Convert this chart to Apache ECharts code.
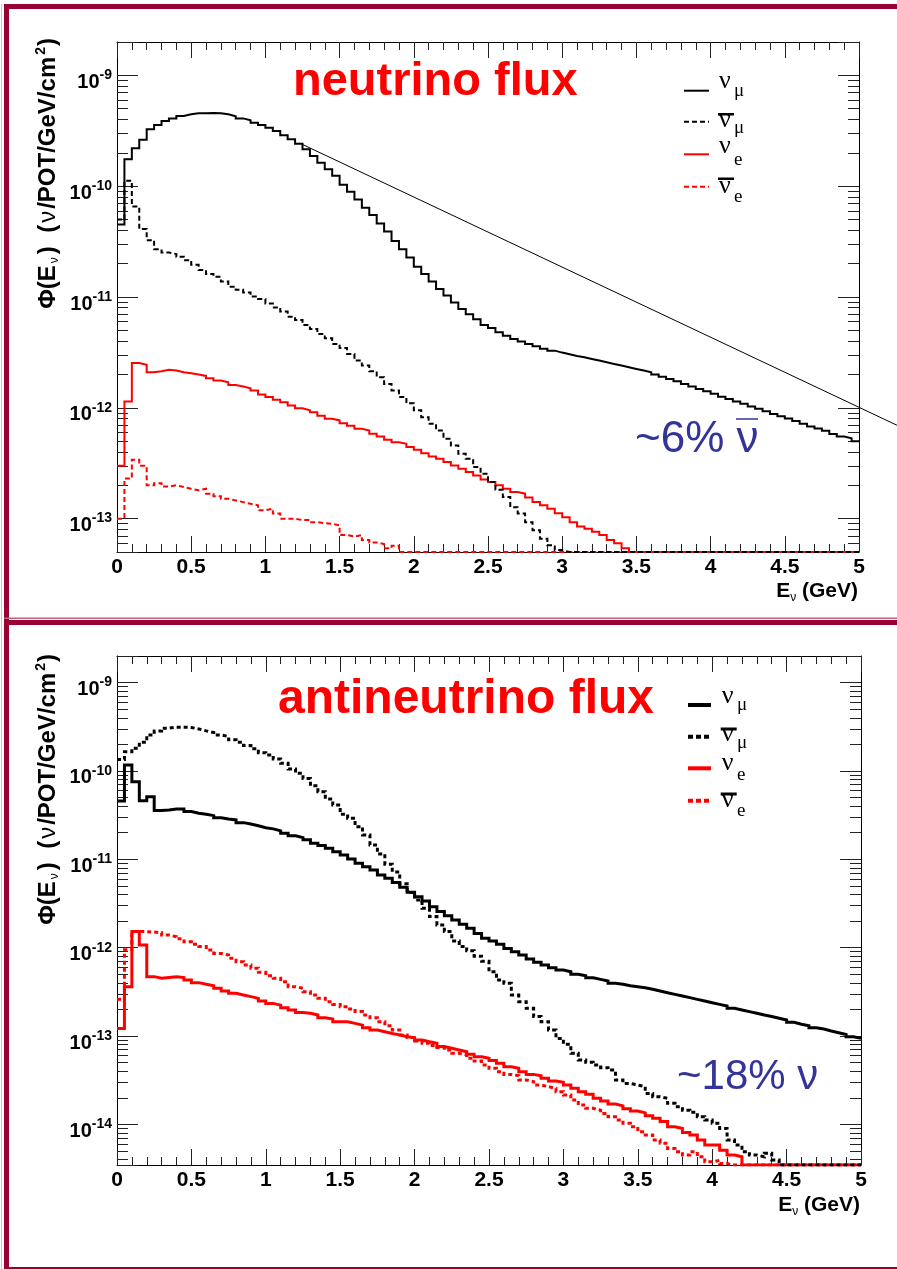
<!DOCTYPE html>
<html><head><meta charset="utf-8">
<script src="https://cdn.jsdelivr.net/npm/echarts@6/dist/echarts.min.js"></script>
<style>html,body{margin:0;padding:0;background:#fff;} #c{width:897px;height:1269px;}</style>
</head><body><div id="c"></div>
<script>
// ---------------- data (flux in nu/POT/GeV/cm^2, 0.05 GeV bins from 0 to 5 GeV; 0 = empty bin) -------------
const BIN_WIDTH = 0.05;

// neutrino-mode (top panel)
const fhcNumu = [4.5e-11,1.75e-10,2.2e-10,2.63e-10,3.26e-10,3.57e-10,3.88e-10,4.09e-10,4.3e-10,4.45e-10,
 4.54e-10,4.56e-10,4.57e-10,4.56e-10,4.45e-10,4.27e-10,4.09e-10,3.94e-10,3.74e-10,3.57e-10,
 3.37e-10,3.15e-10,2.88e-10,2.65e-10,2.42e-10,2.15e-10,1.87e-10,1.63e-10,1.42e-10,1.24e-10,
 1.03e-10,8.9e-11,7.6e-11,6.4e-11,5.5e-11,4.6e-11,3.9e-11,3.2e-11,2.7e-11,2.27e-11,
 1.87e-11,1.61e-11,1.38e-11,1.18e-11,1.03e-11,8.9e-12,7.8e-12,7.0e-12,6.3e-12,5.6e-12,
 5.26e-12,4.8e-12,4.48e-12,4.18e-12,3.96e-12,3.77e-12,3.59e-12,3.42e-12,3.28e-12,3.15e-12,
 3.04e-12,2.94e-12,2.86e-12,2.76e-12,2.67e-12,2.58e-12,2.49e-12,2.41e-12,2.32e-12,2.24e-12,
 2.17e-12,2.09e-12,2.0e-12,1.91e-12,1.82e-12,1.74e-12,1.64e-12,1.56e-12,1.48e-12,1.41e-12,
 1.34e-12,1.26e-12,1.2e-12,1.14e-12,1.09e-12,1.03e-12,9.8e-13,9.3e-13,8.8e-13,8.4e-13,
 8.0e-13,7.6e-13,7.2e-13,6.8e-13,6.5e-13,6.2e-13,5.8e-13,5.5e-13,5.3e-13,5.0e-13];
const fhcNumubar = [5.0e-11,1.12e-10,6.55e-11,4.1e-11,3.26e-11,2.7e-11,2.52e-11,2.44e-11,2.31e-11,2.15e-11,
 1.95e-11,1.75e-11,1.61e-11,1.52e-11,1.38e-11,1.24e-11,1.16e-11,1.1e-11,1.01e-11,9.6e-12,
 8.75e-12,8.05e-12,7.4e-12,6.65e-12,6.2e-12,5.6e-12,5.15e-12,4.64e-12,4.24e-12,3.77e-12,
 3.47e-12,3.06e-12,2.67e-12,2.41e-12,2.14e-12,1.89e-12,1.64e-12,1.43e-12,1.25e-12,1.1e-12,
 9.5e-13,8.2e-13,7.2e-13,6.25e-13,5.25e-13,4.57e-13,3.85e-13,3.47e-13,2.92e-13,2.54e-13,
 2.14e-13,1.82e-13,1.57e-13,1.27e-13,1.11e-13,9.3e-14,7.85e-14,6.6e-14,5.75e-14,5.2e-14,
 0,0,0,0,0,0,0,0,0,0, 0,0,0,0,0,0,0,0,0,0, 0,0,0,0,0,0,0,0,0,0, 0,0,0,0,0,0,0,0,0,0];
const fhcNue = [3.0e-13,1.14e-12,2.54e-12,2.45e-12,2.09e-12,2.14e-12,2.2e-12,2.17e-12,2.09e-12,2.05e-12,
 2.0e-12,1.94e-12,1.85e-12,1.76e-12,1.7e-12,1.61e-12,1.56e-12,1.5e-12,1.43e-12,1.32e-12,
 1.25e-12,1.18e-12,1.12e-12,1.05e-12,9.9e-13,9.5e-13,9.1e-13,8.5e-13,7.96e-13,7.7e-13,
 7.27e-13,6.9e-13,6.47e-13,6.24e-13,5.83e-13,5.52e-13,5.15e-13,4.9e-13,4.74e-13,4.42e-13,
 4.19e-13,3.9e-13,3.64e-13,3.47e-13,3.24e-13,3.02e-13,2.82e-13,2.63e-13,2.45e-13,2.25e-13,
 2.14e-13,2.0e-13,1.86e-13,1.74e-13,1.68e-13,1.55e-13,1.41e-13,1.32e-13,1.23e-13,1.12e-13,
 1.03e-13,9.3e-14,8.5e-14,8.1e-14,7.6e-14,7.1e-14,6.4e-14,6.0e-14,5.4e-14,0,
 0,0,0,0,0,0,0,0,0,0, 0,0,0,0,0,0,0,0,0,0, 0,0,0,0,0,0,0,0,0,0];
const fhcNuebar = [1.0e-13,2.3e-13,3.4e-13,3.0e-13,2.0e-13,2.09e-13,1.95e-13,2.0e-13,1.93e-13,1.86e-13,
 1.8e-13,1.86e-13,1.68e-13,1.59e-13,1.51e-13,1.46e-13,1.41e-13,1.36e-13,1.32e-13,1.19e-13,
 1.23e-13,1.11e-13,1.0e-13,1.0e-13,9.7e-14,9.7e-14,9.3e-14,9.1e-14,9.0e-14,8.7e-14,
 7.1e-14,6.9e-14,7.1e-14,6.4e-14,6.1e-14,5.9e-14,5.4e-14,5.7e-14,0,0,
 0,0,0,0,0,0,0,0,0,0, 0,0,0,0,0,0,0,0,0,0, 0,0,0,0,0,0,0,0,0,0,
 0,0,0,0,0,0,0,0,0,0, 0,0,0,0,0,0,0,0,0,0, 0,0,0,0,0,0,0,0,0,0];

// antineutrino-mode (bottom panel)
const rhcNumu = [4.58e-11,1.17e-10,7.57e-11,4.6e-11,5.1e-11,3.56e-11,3.62e-11,3.72e-11,3.72e-11,3.47e-11,
 3.32e-11,3.24e-11,3.12e-11,2.96e-11,2.86e-11,2.79e-11,2.6e-11,2.51e-11,2.4e-11,2.28e-11,
 2.21e-11,2.1e-11,1.97e-11,1.85e-11,1.76e-11,1.66e-11,1.52e-11,1.43e-11,1.33e-11,1.22e-11,
 1.12e-11,1.01e-11,9.0e-12,8.26e-12,7.58e-12,6.66e-12,6.1e-12,5.45e-12,4.83e-12,4.24e-12,
 3.78e-12,3.38e-12,2.91e-12,2.56e-12,2.3e-12,2.06e-12,1.84e-12,1.66e-12,1.45e-12,1.28e-12,
 1.19e-12,1.09e-12,9.8e-13,9.0e-13,8.26e-13,7.45e-13,6.83e-13,6.37e-13,5.94e-13,5.59e-13,
 5.35e-13,5.0e-13,4.82e-13,4.57e-13,4.38e-13,4.2e-13,3.95e-13,3.85e-13,3.71e-13,3.62e-13,
 3.52e-13,3.38e-13,3.23e-13,3.09e-13,2.96e-13,2.84e-13,2.72e-13,2.6e-13,2.49e-13,2.38e-13,
 2.28e-13,2.19e-13,2.06e-13,1.97e-13,1.89e-13,1.81e-13,1.73e-13,1.66e-13,1.59e-13,1.52e-13,
 1.43e-13,1.36e-13,1.31e-13,1.24e-13,1.2e-13,1.14e-13,1.09e-13,1.04e-13,9.8e-14,9.4e-14];
const rhcNumubar = [1.35e-10,1.65e-10,1.81e-10,2.11e-10,2.56e-10,2.84e-10,3.05e-10,3.13e-10,3.13e-10,3.1e-10,
 2.99e-10,2.84e-10,2.72e-10,2.56e-10,2.45e-10,2.25e-10,2.11e-10,1.94e-10,1.78e-10,1.61e-10,
 1.52e-10,1.37e-10,1.22e-10,1.05e-10,9.4e-11,8.2e-11,6.8e-11,5.83e-11,4.82e-11,4.12e-11,
 3.24e-11,2.92e-11,2.34e-11,1.89e-11,1.45e-11,1.15e-11,8.8e-12,7.2e-12,5.3e-12,4.2e-12,
 3.47e-12,2.79e-12,2.25e-12,1.81e-12,1.52e-12,1.19e-12,1.03e-12,9.2e-13,8.0e-13,7.0e-13,
 5.35e-13,4.3e-13,3.95e-13,2.91e-13,2.45e-13,2.06e-13,1.66e-13,1.45e-13,1.17e-13,9.4e-14,
 8.05e-14,6.37e-14,5.36e-14,5.04e-14,4.7e-14,4.38e-14,4.12e-14,3.18e-14,2.91e-14,2.79e-14,
 2.67e-14,2.24e-14,2.06e-14,1.97e-14,1.73e-14,1.58e-14,1.45e-14,1.37e-14,1.22e-14,1.12e-14,
 1.03e-14,9.0e-15,6.65e-15,5.84e-15,4.9e-15,4.5e-15,4.3e-15,4.7e-15,3.95e-15,0,
 0,0,0,0,0,0,0,0,0,0];
const rhcNue = [1.22e-13,3.62e-13,1.52e-12,1.07e-12,4.7e-13,4.5e-13,4.6e-13,4.7e-13,4.6e-13,4.3e-13,
 4.02e-13,3.85e-13,3.71e-13,3.47e-13,3.23e-13,3.04e-13,2.91e-13,2.79e-13,2.67e-13,2.49e-13,
 2.34e-13,2.24e-13,2.09e-13,1.97e-13,1.85e-13,1.81e-13,1.73e-13,1.61e-13,1.56e-13,1.45e-13,
 1.45e-13,1.39e-13,1.33e-13,1.24e-13,1.17e-13,1.12e-13,1.07e-13,1.03e-13,9.8e-14,9.6e-14,
 9.0e-14,8.6e-14,8.3e-14,7.6e-14,7.26e-14,6.95e-14,6.65e-14,6.2e-14,5.84e-14,5.6e-14,
 5.3e-14,4.91e-14,4.5e-14,4.31e-14,3.95e-14,3.68e-14,3.56e-14,3.32e-14,3.1e-14,2.99e-14,
 2.79e-14,2.56e-14,2.34e-14,2.19e-14,1.97e-14,1.84e-14,1.7e-14,1.62e-14,1.5e-14,1.42e-14,
 1.35e-14,1.25e-14,1.17e-14,1.08e-14,9.4e-15,9.0e-15,8.1e-15,7.6e-15,6.65e-15,5.84e-15,
 5.84e-15,5.1e-15,4.5e-15,4.3e-15,0,0,0,0,0,0, 0,0,0,0,0,0,0,0,0,0];
const rhcNuebar = [2.6e-13,9.5e-13,1.52e-12,1.52e-12,1.5e-12,1.48e-12,1.39e-12,1.33e-12,1.26e-12,1.17e-12,
 1.09e-12,1.03e-12,9.4e-13,8.6e-13,8.26e-13,7.57e-13,6.95e-13,6.37e-13,5.84e-13,5.26e-13,
 4.82e-13,4.5e-13,4.12e-13,3.62e-13,3.47e-13,3.18e-13,2.91e-13,2.67e-13,2.45e-13,2.28e-13,
 2.15e-13,2.02e-13,1.89e-13,1.73e-13,1.61e-13,1.45e-13,1.31e-13,1.17e-13,1.03e-13,9.6e-14,
 8.8e-14,8.3e-14,7.8e-14,7.4e-14,6.95e-14,6.37e-14,6.1e-14,5.6e-14,5.2e-14,4.7e-14,
 4.31e-14,3.95e-14,3.68e-14,3.56e-14,3.18e-14,3.05e-14,2.79e-14,2.67e-14,2.56e-14,2.34e-14,
 2.15e-14,1.89e-14,1.66e-14,1.52e-14,1.45e-14,1.33e-14,1.22e-14,1.12e-14,1.03e-14,9.4e-15,
 8.26e-15,7.6e-15,6.65e-15,6.1e-15,5.34e-15,4.9e-15,4.5e-15,4.9e-15,4.3e-15,3.77e-15,
 3.9e-15,3.6e-15,0,0,0,0,0,0,0,0, 0,0,0,0,0,0,0,0,0,0];

// thin reference line drawn in the top panel, running out past the frame (E in GeV, flux)
const guideLineE = [1.23, 5.256];
const guideLineFlux = [2.45e-10, 6.96e-13];

// axis ranges and tick labels
const X_RANGE = [0, 5];
const X_INTERVAL = 0.5;
const GUIDE_X_MAX = 5.256;        // hidden extended axis for the reference line (same scale as the panel)
const FHC_Y_RANGE = [5e-14, 2e-9];
const RHC_Y_RANGE = [3.47e-15, 2e-9];
const UNIT_EXP = -15;           // values are plotted in units of 1e-15
const UNIT = Math.pow(10, UNIT_EXP);

// ---------------- build ----------------
function hist(vals, floor) {
  const pts = vals.map((v, i) => [Math.round(i * BIN_WIDTH * 1000) / 1000, Math.max(v, floor) / UNIT]);
  pts.push([Math.round(vals.length * BIN_WIDTH * 1000) / 1000, Math.max(vals[vals.length - 1], floor) / UNIT]);
  return pts;
}
const SANS = 'Liberation Sans';
const SERIF = 'Liberation Serif';

function xAxes(gi) {
  const common = {
    type: 'value', gridIndex: gi, min: X_RANGE[0], max: X_RANGE[1], interval: X_INTERVAL,
    splitLine: { show: false },
    axisLine: { show: true, onZero: false, lineStyle: { color: '#000', width: 1 } },
    axisTick: { show: true, inside: true, length: 16, lineStyle: { color: '#222', width: 1 } },
    minorTick: { show: true, splitNumber: 5, length: 8, lineStyle: { color: '#222', width: 1 } }
  };
  return [
    Object.assign({}, common, { position: 'bottom',
      axisLabel: { show: true, margin: 5, fontFamily: SANS, fontWeight: 'bold', fontSize: 21, color: '#000' } }),
    Object.assign({}, common, { position: 'top', axisLabel: { show: false } })
  ];
}
function yLabel(v) {
  const e = Math.log10(v);
  const r = Math.round(e);
  if (Math.abs(e - r) > 1e-6) return '';
  return '{b|10}{s|' + (r + UNIT_EXP) + '}';
}
function yAxes(gi, range) {
  const common = {
    type: 'log', logBase: 10, gridIndex: gi, min: range[0] / UNIT, max: range[1] / UNIT,
    splitLine: { show: false },
    axisLine: { show: true, onZero: false, lineStyle: { color: '#000', width: 1 } },
    axisTick: { show: true, inside: true, length: 21, lineStyle: { color: '#222', width: 1 } },
    minorTick: { show: true, splitNumber: 9, length: 11, lineStyle: { color: '#222', width: 1 } }
  };
  return [
    Object.assign({}, common, { position: 'left',
      axisLabel: { show: true, margin: 5, formatter: yLabel, color: '#000',
        rich: {
          b: { fontFamily: SANS, fontWeight: 'bold', fontSize: 20, lineHeight: 20, padding: [14, 0, 0, 0], color: '#000' },
          s: { fontFamily: SANS, fontWeight: 'bold', fontSize: 14, lineHeight: 14, color: '#000' }
        } } }),
    Object.assign({}, common, { position: 'right', axisLabel: { show: false } })
  ];
}

function histSeries(vals, floor, gi, color, dashed, width, dash) {
  return {
    type: 'line', step: 'end', xAxisIndex: gi * 2, yAxisIndex: gi * 2,
    data: hist(vals, floor), showSymbol: false, symbol: 'none', silent: true,
    lineStyle: { color: color, width: width, type: dashed ? dash : 'solid', cap: 'butt', join: 'miter' },
    animation: false, clip: true
  };
}

const series = [
  {
    type: 'line', xAxisIndex: 4, yAxisIndex: 4, clip: false, silent: true, showSymbol: false, symbol: 'none',
    data: guideLineE.map((e, i) => [e, guideLineFlux[i] / UNIT]),
    lineStyle: { color: '#000', width: 1 }, animation: false, z: 1
  },
  histSeries(fhcNuebar, FHC_Y_RANGE[0], 0, '#ff0000', true, 2, [5, 3]),
  histSeries(fhcNue, FHC_Y_RANGE[0], 0, '#ff0000', false, 2),
  histSeries(fhcNumubar, FHC_Y_RANGE[0], 0, '#000000', true, 2, [5, 3]),
  histSeries(fhcNumu, FHC_Y_RANGE[0], 0, '#000000', false, 2),

  histSeries(rhcNuebar, RHC_Y_RANGE[0], 1, '#ff0000', true, 3, [4, 3]),
  histSeries(rhcNue, RHC_Y_RANGE[0], 1, '#ff0000', false, 3),
  histSeries(rhcNumubar, RHC_Y_RANGE[0], 1, '#000000', true, 3, [4, 3]),
  histSeries(rhcNumu, RHC_Y_RANGE[0], 1, '#000000', false, 3)
];

// ---------------- decorations (text, legend, slide frame) ----------------
function txt(x, baseline, s, size, family, weight, fill, align) {
  const k = family === SERIF ? 0.3375 : 0.3465;
  return { type: 'text', x: x, y: baseline - k * size, silent: true,
    style: { text: s, fontFamily: family, fontWeight: weight || 'normal', fontSize: size, fill: fill || '#000',
      align: align || 'left', verticalAlign: 'middle' } };
}
function hline(x1, x2, y, color, width, dash) {
  return { type: 'line', silent: true, shape: { x1: x1, y1: y, x2: x2, y2: y },
    style: { stroke: color, lineWidth: width, lineDash: dash || null } };
}
function rect(x, y, w, h, fill) {
  return { type: 'rect', silent: true, shape: { x: x, y: y, width: w, height: h }, style: { fill: fill } };
}
function legend(lx1, lx2, rows, lw, dash, nuX, subX, size, subSize) {
  const out = [];
  rows.forEach(r => {
    out.push(hline(lx1, lx2, r.ly, r.color, lw, r.dashed ? dash : null));
    out.push(txt(nuX, r.nuBase, 'ν', size, SERIF, 'normal', '#000'));
    out.push(txt(subX, r.subBase, r.sub, subSize, SERIF, 'normal', '#000'));
    if (r.bar) out.push(rect(nuX - 1, r.bar[0], 16, r.bar[1], '#000'));
  });
  return out;
}
function yTitle(x, yTop) {
  return { type: 'text', x: x, y: yTop, rotation: Math.PI / 2, silent: true,
    style: {
      text: '{m|Φ(E}{sub|ν}{m|)  (}{n|ν}{m|/POT/GeV/cm}{sup|2}{m|)}',
      align: 'right', verticalAlign: 'middle',
      rich: {
        m: { fontFamily: SANS, fontWeight: 'bold', fontSize: 24, fill: '#000' },
        n: { fontFamily: SANS, fontWeight: 'normal', fontSize: 24, fill: '#000', padding: [0, 2, 0, 2] },
        sub: { fontFamily: SANS, fontWeight: 'normal', fontSize: 12, fill: '#000', padding: [13, 3, 0, 2] },
        sup: { fontFamily: SANS, fontWeight: 'bold', fontSize: 14, fill: '#000', padding: [0, 1, 13, 2] }
      } } };
}
function xTitle(xRight, baseline) {
  return { type: 'text', x: xRight, y: baseline - 0.3465 * 21, silent: true,
    style: {
      text: '{m|E}{sub|ν}{m| (GeV)}', align: 'right', verticalAlign: 'middle',
      rich: {
        m: { fontFamily: SANS, fontWeight: 'bold', fontSize: 21, fill: '#000' },
        sub: { fontFamily: SANS, fontWeight: 'normal', fontSize: 12, fill: '#000', padding: [14, 0, 0, 0] }
      } } };
}

const FRAME = '#990033';
const graphics = [
  rect(1, 4, 1, 1265, '#e6b8c6'),
  rect(4, 4, 5, 1265, FRAME),
  rect(4, 4, 893, 5, FRAME),
  rect(4, 617.5, 893, 1.5, '#c0607e'),
  rect(4, 620, 893, 5, FRAME),
  rect(4, 1267, 893, 2, FRAME),

  txt(293, 98.3, 'neutrino flux', 47, SANS, 'bold', '#ff0000'),
  txt(278, 716.7, 'antineutrino flux', 48, SANS, 'bold', '#ff0000'),
  txt(635, 455, '~6% ν', 44, SANS, 'normal', '#333399'),
  hline(736, 758, 419, '#333399', 1.5),
  txt(677, 1091.7, '~18% ν', 42, SANS, 'normal', '#333399'),

  yTitle(48, 38),
  yTitle(48, 654),
  xTitle(858, 598.3),
  xTitle(860, 1212)
].concat(
  legend(684, 709, [
    { ly: 90.7, color: '#000', dashed: false, nuBase: 90, sub: 'μ', subBase: 97 },
    { ly: 121.7, color: '#000', dashed: true, nuBase: 129.3, sub: 'μ', subBase: 134.5, bar: [113, 2.5] },
    { ly: 154.3, color: '#ff0000', dashed: false, nuBase: 155, sub: 'e', subBase: 166 },
    { ly: 186.7, color: '#ff0000', dashed: true, nuBase: 195, sub: 'e', subBase: 203, bar: [177.5, 2.5] }
  ], 2, [5, 3], 719, 734, 26, 19),
  legend(688, 711, [
    { ly: 705, color: '#000', dashed: false, nuBase: 705, sub: 'μ', subBase: 711 },
    { ly: 736.7, color: '#000', dashed: true, nuBase: 743, sub: 'μ', subBase: 749, bar: [727.5, 3] },
    { ly: 768.3, color: '#ff0000', dashed: false, nuBase: 771.7, sub: 'e', subBase: 781 },
    { ly: 800.7, color: '#ff0000', dashed: true, nuBase: 809, sub: 'e', subBase: 817.7, bar: [792.5, 3] }
  ], 4, [5, 3], 721.7, 737, 26, 19)
);

const TOP_GRID = { left: 117, top: 42, width: 742, height: 510 };
const chart = echarts.init(document.getElementById('c'), null, { renderer: 'canvas', width: 897, height: 1269 });
chart.setOption({
  backgroundColor: '#ffffff',
  animation: false,
  grid: [
    Object.assign({ containLabel: false }, TOP_GRID),
    { left: 117, top: 656, width: 744, height: 509, containLabel: false },
    { left: TOP_GRID.left, top: TOP_GRID.top, height: TOP_GRID.height,
      width: TOP_GRID.width * (GUIDE_X_MAX - X_RANGE[0]) / (X_RANGE[1] - X_RANGE[0]), containLabel: false }
  ],
  xAxis: xAxes(0).concat(xAxes(1)).concat([
    { type: 'value', gridIndex: 2, min: X_RANGE[0], max: GUIDE_X_MAX, show: false }
  ]),
  yAxis: yAxes(0, FHC_Y_RANGE).concat(yAxes(1, RHC_Y_RANGE)).concat([
    { type: 'log', logBase: 10, gridIndex: 2, min: FHC_Y_RANGE[0] / UNIT, max: FHC_Y_RANGE[1] / UNIT, show: false }
  ]),
  series: series,
  graphic: { elements: graphics }
});
</script>
</body></html>
